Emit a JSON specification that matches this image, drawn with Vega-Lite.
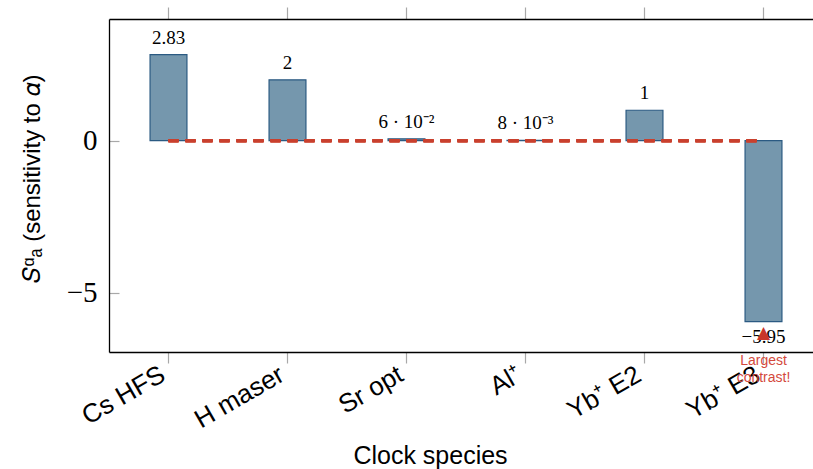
{
  "$schema": "https://vega.github.io/schema/vega-lite/v6.json",
  "autosize": "none",
  "padding": {"left": 109, "top": 19, "right": -10, "bottom": 117},
  "width": 714,
  "height": 333,
  "config": {
    "view": {"stroke": null},
    "axis": {"grid": false}
  },
  "datasets": {
    "clocks": [
      {"species": "Cs HFS", "value": 2.83, "label": "2.83"},
      {"species": "H maser", "value": 2, "label": "2"},
      {"species": "Sr opt", "value": 0.06, "label": "6 · 10⁻²"},
      {"species": "Al⁺", "value": 0.008, "label": "8 · 10⁻³"},
      {"species": "Yb⁺ E2", "value": 1, "label": "1"},
      {"species": "Yb⁺ E3", "value": -5.95, "label": "−5.95"}
    ],
    "note": [
      {"species": "Yb⁺ E3", "value": -5.95, "arrow": "▲", "text": "Largest\ncontrast!"}
    ]
  },
  "resolve": {"axis": {"x": "independent", "y": "independent"}},
  "layer": [
    {
      "data": {"name": "clocks"},
      "mark": {"type": "bar", "width": {"band": 0.31}, "fill": "#7597ad", "stroke": "#2b5a82", "strokeWidth": 1.2},
      "encoding": {
        "x": {
          "field": "species", "type": "nominal",
          "sort": ["Cs HFS", "H maser", "Sr opt", "Al⁺", "Yb⁺ E2", "Yb⁺ E3"],
          "scale": {"domain": ["Cs HFS", "H maser", "Sr opt", "Al⁺", "Yb⁺ E2", "Yb⁺ E3"], "paddingInner": 0, "paddingOuter": 0},
          "axis": {
            "orient": "bottom", "title": "Clock species",
            "domain": true, "domainColor": "#000000", "domainWidth": 1.3,
            "tickColor": "#a8a8a8", "tickSize": 11, "tickWidth": 1.2,
            "labelAngle": -30, "labelAlign": "right", "labelBaseline": "top", "labelPadding": -2, "labelOffset": -12,
            "labelFont": "Liberation Sans", "labelFontSize": 26, "labelColor": "#000000",
            "titleFont": "Liberation Sans", "titleFontSize": 25, "titleFontWeight": "normal", "titleColor": "#000000",
            "titleX": 321, "titleY": 111, "titleBaseline": "alphabetic", "titleAlign": "center", "titleAnchor": null
          }
        },
        "y": {
          "field": "value", "type": "quantitative",
          "scale": {"domain": [-6.95, 4.0], "nice": false, "zero": false},
          "axis": {
            "orient": "left", "values": [-5, 0],
            "domain": true, "domainColor": "#000000", "domainWidth": 1.3,
            "tickColor": "#a8a8a8", "tickSize": -10, "tickWidth": 1.2,
            "labelPadding": 22, "labelFont": "Liberation Serif", "labelFontSize": 29, "labelColor": "#000000",
            "title": "𝑆ᵅₐ (sensitivity to 𝛼)",
            "titleFont": "Liberation Sans", "titleFontSize": 24, "titleFontWeight": "normal", "titleColor": "#000000",
            "titleAngle": -90, "titleX": -77, "titleY": 159, "titleAlign": "center", "titleBaseline": "middle"
          }
        }
      }
    },
    {
      "data": {"name": "clocks"},
      "mark": {"type": "rule", "color": "#c9402e", "strokeWidth": 3, "strokeDash": [10, 7]},
      "encoding": {
        "x": {
          "datum": "Cs HFS", "type": "nominal",
          "scale": {"domain": ["Cs HFS", "H maser", "Sr opt", "Al⁺", "Yb⁺ E2", "Yb⁺ E3"], "paddingInner": 0, "paddingOuter": 0},
          "axis": {"orient": "top", "title": null, "labels": false, "domain": true, "domainColor": "#000000", "domainWidth": 1.3, "tickColor": "#a8a8a8", "tickSize": 12, "tickWidth": 1.2}
        },
        "x2": {"datum": "Yb⁺ E3"},
        "y": {
          "datum": 0, "type": "quantitative",
          "axis": {"orient": "right", "title": null, "labels": false, "domain": false, "values": [-5, 0], "tickColor": "#a8a8a8", "tickSize": -10, "tickWidth": 1.2}
        }
      }
    },
    {
      "data": {"name": "clocks"},
      "transform": [{"filter": "datum.value >= 0"}],
      "mark": {"type": "text", "font": "Liberation Serif", "fontSize": 19, "baseline": "alphabetic", "dy": -11, "color": "#000000"},
      "encoding": {
        "x": {"field": "species", "type": "nominal", "sort": ["Cs HFS", "H maser", "Sr opt", "Al⁺", "Yb⁺ E2", "Yb⁺ E3"], "axis": null},
        "y": {"field": "value", "type": "quantitative", "axis": null},
        "text": {"field": "label"}
      }
    },
    {
      "data": {"name": "clocks"},
      "transform": [{"filter": "datum.value < 0"}],
      "mark": {"type": "text", "font": "Liberation Serif", "fontSize": 19, "baseline": "alphabetic", "dy": 21, "color": "#000000"},
      "encoding": {
        "x": {"field": "species", "type": "nominal", "sort": ["Cs HFS", "H maser", "Sr opt", "Al⁺", "Yb⁺ E2", "Yb⁺ E3"], "axis": null},
        "y": {"field": "value", "type": "quantitative", "axis": null},
        "text": {"field": "label"}
      }
    },
    {
      "data": {"name": "note"},
      "mark": {"type": "text", "font": "DejaVu Sans", "fontSize": 17, "baseline": "alphabetic", "dy": 16, "color": "#c9352a"},
      "encoding": {
        "x": {"field": "species", "type": "nominal", "axis": null},
        "y": {"field": "value", "type": "quantitative", "axis": null},
        "text": {"field": "arrow"}
      }
    },
    {
      "data": {"name": "note"},
      "mark": {"type": "text", "font": "Liberation Sans", "fontSize": 14, "baseline": "alphabetic", "dy": 43, "lineBreak": "\n", "lineHeight": 17, "color": "#d4493c"},
      "encoding": {
        "x": {"field": "species", "type": "nominal", "axis": null},
        "y": {"field": "value", "type": "quantitative", "axis": null},
        "text": {"field": "text"}
      }
    }
  ]
}
